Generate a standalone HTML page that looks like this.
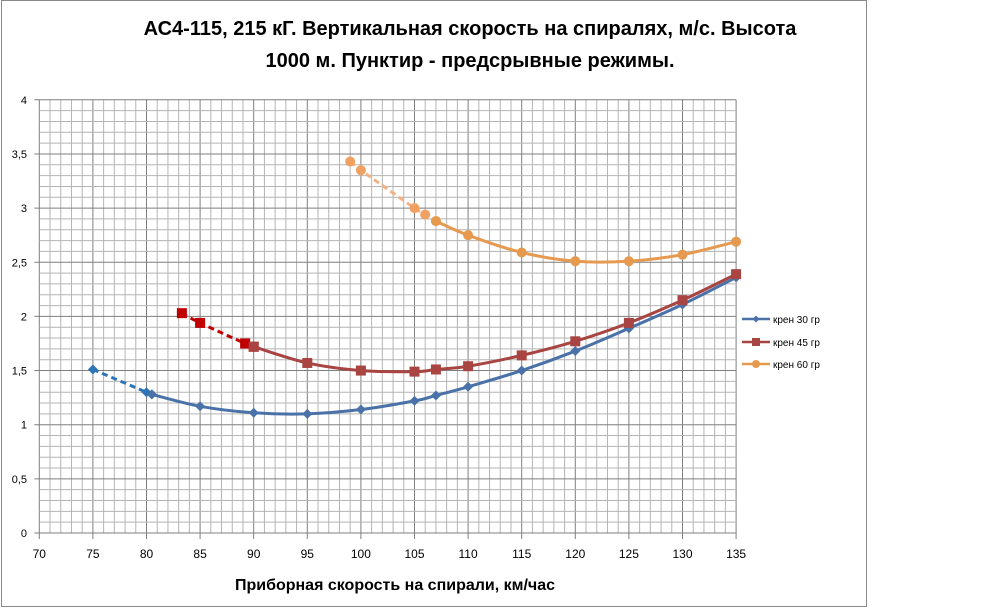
<!DOCTYPE html>
<html><head><meta charset="utf-8"><style>
html,body{margin:0;padding:0;background:#fff;}
svg{display:block;font-family:"Liberation Sans",sans-serif;}
</style></head><body>
<svg id="s" width="1000" height="609" xmlns="http://www.w3.org/2000/svg">
<rect x="1.5" y="0.5" width="865" height="606" fill="#fff" stroke="#8a8a8a"/>
<g id="grid"></g>
<g id="series"></g>
<text x="470" y="35" text-anchor="middle" font-size="20" font-weight="bold">АС4-115, 215 кГ. Вертикальная скорость на спиралях, м/с. Высота</text>
<text x="470" y="67" text-anchor="middle" font-size="20" font-weight="bold">1000 м. Пунктир - предсрывные режимы.</text>
<text x="395" y="590" text-anchor="middle" font-size="16" font-weight="bold">Приборная скорость  на спирали, км/час</text>
<g font-size="10" fill="#000">
<line x1="742" y1="319" x2="770" y2="319" stroke="#4a72a8" stroke-width="2.5"/><path d="M756 315.5 L759.5 319 L756 322.5 L752.5 319Z" fill="#4a72a8"/>
<text x="773" y="323">крен 30 гр</text>
<line x1="742" y1="342" x2="770" y2="342" stroke="#a84442" stroke-width="2.5"/><rect x="752" y="338" width="8" height="8" fill="#a84442"/>
<text x="773" y="346">крен 45 гр</text>
<line x1="742" y1="364" x2="770" y2="364" stroke="#e59a50" stroke-width="2.5"/><circle cx="756" cy="364" r="4" fill="#e59a50"/>
<text x="773" y="368">крен 60 гр</text>
</g>
</svg>
<script>
const NS="http://www.w3.org/2000/svg";
const X=v=>39.3+(v-70)*10.72, Y=v=>533-v*108.3;
const g=document.getElementById('grid'), se=document.getElementById('series');
function el(p,t,a){const e=document.createElementNS(NS,t);for(const k in a)e.setAttribute(k,a[k]);p.appendChild(e);return e;}
for(let v=70;v<=135;v++){const maj=v%5==0;el(g,'line',{x1:X(v),x2:X(v),y1:Y(4),y2:Y(0)+(maj?6:0),stroke:maj?'#7f7f7f':'#b4b4b4','stroke-width':1});
 if(maj){const t=el(g,'text',{x:X(v),y:558,'text-anchor':'middle','font-size':12});t.textContent=v;}}
for(let i=0;i<=40;i++){const v=i/10,maj=i%5==0;el(g,'line',{x1:X(70)-(maj?5:0),x2:X(135),y1:Y(v),y2:Y(v),stroke:maj?'#7f7f7f':'#b4b4b4','stroke-width':1});
 if(maj){const t=el(g,'text',{x:27,y:Y(v)+4,'text-anchor':'end','font-size':11});t.textContent=(i/10).toString().replace('.',',');}}
function path(pts){let d='M'+X(pts[0][0])+' '+Y(pts[0][1]);
 for(let i=0;i<pts.length-1;i++){const p0=pts[i-1]||pts[i],p1=pts[i],p2=pts[i+1],p3=pts[i+2]||p2;
  const a=[X(p1[0])+(X(p2[0])-X(p0[0]))/6,Y(p1[1])+(Y(p2[1])-Y(p0[1]))/6],b=[X(p2[0])-(X(p3[0])-X(p1[0]))/6,Y(p2[1])-(Y(p3[1])-Y(p1[1]))/6];
  d+=` C${a[0]} ${a[1]} ${b[0]} ${b[1]} ${X(p2[0])} ${Y(p2[1])}`;}return d;}
const S=[
 {c:'#4a72a8',dc:'#2e75b6',dash:[[75,1.51],[80,1.30],[80.5,1.28]],pts:[[80.5,1.28],[85,1.17],[90,1.11],[95,1.10],[100,1.14],[105,1.22],[107,1.27],[110,1.35],[115,1.50],[120,1.68],[125,1.89],[130,2.11],[135,2.36]],m:'d'},
 {c:'#a84442',dc:'#c00000',dash:[[83.3,2.03],[85,1.94],[89.2,1.75],[90,1.72]],pts:[[90,1.72],[95,1.57],[100,1.50],[105,1.49],[107,1.51],[110,1.54],[115,1.64],[120,1.77],[125,1.94],[130,2.15],[135,2.39]],m:'s'},
 {c:'#e59a50',dc:'#f4b183',dash:[[99,3.43],[100,3.35],[105,3.0],[106,2.94],[107,2.88]],pts:[[107,2.88],[110,2.75],[115,2.59],[120,2.51],[125,2.51],[130,2.57],[135,2.69]],m:'c'}];
for(const s of S){
 el(se,'path',{d:path(s.dash),fill:'none',stroke:s.dc,'stroke-width':3,'stroke-dasharray':'6 4'});
 el(se,'path',{d:path(s.pts),fill:'none',stroke:s.c,'stroke-width':3});
 for(const [i,p] of s.dash.concat(s.pts).entries()){const x=X(p[0]),y=Y(p[1]);const dp=i<s.dash.length;const col=dp?s.dc:s.c;
  if(s.m=='d')el(se,'path',{d:`M${x} ${y-5}L${x+5} ${y}L${x} ${y+5}L${x-5} ${y}Z`,fill:col});
  else if(s.m=='s')el(se,'rect',{x:x-5,y:y-5,width:10,height:10,fill:col});
  else el(se,'circle',{cx:x,cy:y,r:5,fill:dp?'#f0a060':col});}
}
</script>
</body></html>
